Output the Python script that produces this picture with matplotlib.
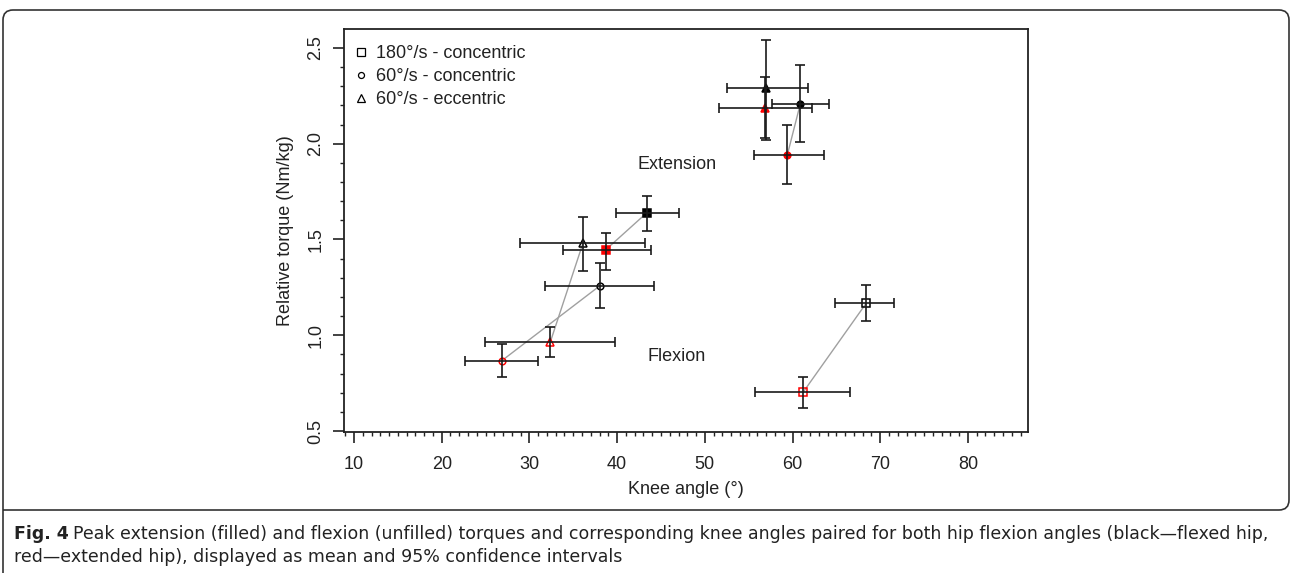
import numpy as np
import matplotlib
matplotlib.use('Agg')
import matplotlib.pyplot as plt
from matplotlib.lines import Line2D
from matplotlib.path import Path
from matplotlib.patches import PathPatch
from matplotlib.ticker import MultipleLocator

# conditions: 180 concentric, 60 concentric, 60 eccentric
labels = ['180°/s - concentric', '60°/s - concentric', '60°/s - eccentric']
markers = ['s', 'o', '^']

# extension (filled) - black = flexed hip, red = extended hip
ext_blk_x = [43.4, 60.9, 57.0]
ext_blk_xlo = [39.9, 57.7, 52.5]
ext_blk_xhi = [47.1, 64.2, 61.8]
ext_blk_y = [1.64, 2.21, 2.29]
ext_blk_ylo = [1.545, 2.01, 2.02]
ext_blk_yhi = [1.728, 2.41, 2.54]

ext_red_x = [38.7, 59.4, 56.9]
ext_red_xlo = [33.8, 55.6, 51.6]
ext_red_xhi = [43.9, 63.6, 62.2]
ext_red_y = [1.446, 1.94, 2.185]
ext_red_ylo = [1.34, 1.79, 2.03]
ext_red_yhi = [1.535, 2.10, 2.35]

# flexion (unfilled)
flx_blk_x = [68.4, 38.05, 36.1]
flx_blk_xlo = [64.9, 31.8, 28.9]
flx_blk_xhi = [71.6, 44.2, 43.2]
flx_blk_y = [1.167, 1.259, 1.48]
flx_blk_ylo = [1.076, 1.142, 1.336]
flx_blk_yhi = [1.263, 1.379, 1.618]

flx_red_x = [61.2, 26.85, 32.4]
flx_red_xlo = [55.7, 22.7, 24.9]
flx_red_xhi = [66.6, 31.0, 39.8]
flx_red_y = [0.702, 0.867, 0.967]
flx_red_ylo = [0.622, 0.784, 0.888]
flx_red_yhi = [0.780, 0.955, 1.042]

msize = {'s': 6.0, 'o': 4.8, '^': 6.3}

plt.rcParams['font.family'] = ['Liberation Sans', 'DejaVu Sans']

fig = plt.figure(figsize=(12.92, 5.73), dpi=100)
ax = fig.add_axes([344/1292, 141/573, 684/1292, 403/573])


def draw_group(x, xlo, xhi, y, ylo, yhi, col, filled):
    x = np.array(x); y = np.array(y)
    xerr = [x - np.array(xlo), np.array(xhi) - x]
    yerr = [y - np.array(ylo), np.array(yhi) - y]
    for i, m in enumerate(markers):
        ax.plot(x[i], y[i], marker=m, ms=msize[m], mec=col, mew=1.1,
                mfc=col if filled else 'none', ls='none', zorder=2)
    ax.errorbar(x, y, xerr=xerr, yerr=yerr, fmt='none', ecolor='#1a1a1a',
                elinewidth=1.2, capsize=3.3, capthick=1.2, zorder=3)


# grey lines pairing the two hip angles
for bx, by, rx, ry in [(ext_blk_x, ext_blk_y, ext_red_x, ext_red_y),
                       (flx_blk_x, flx_blk_y, flx_red_x, flx_red_y)]:
    for i in range(3):
        ax.plot([bx[i], rx[i]], [by[i], ry[i]], color='#a0a0a0', lw=1.0, zorder=1)

draw_group(ext_blk_x, ext_blk_xlo, ext_blk_xhi, ext_blk_y, ext_blk_ylo, ext_blk_yhi, 'black', True)
draw_group(ext_red_x, ext_red_xlo, ext_red_xhi, ext_red_y, ext_red_ylo, ext_red_yhi, 'red', True)
draw_group(flx_blk_x, flx_blk_xlo, flx_blk_xhi, flx_blk_y, flx_blk_ylo, flx_blk_yhi, 'black', False)
draw_group(flx_red_x, flx_red_xlo, flx_red_xhi, flx_red_y, flx_red_ylo, flx_red_yhi, 'red', False)

ax.text(46.8, 1.89, 'Extension', fontsize=13, color='#222222', ha='center', va='center')
ax.text(46.8, 0.89, 'Flexion', fontsize=13, color='#222222', ha='center', va='center')

handles = [Line2D([], [], marker=m, ls='none', mfc='none', mec='black',
                  mew=0.9, ms=msize[m] * 0.9) for m in markers]
ax.legend(handles, labels, loc='upper left', bbox_to_anchor=(0.0, 0.986),
          frameon=False, fontsize=13, handlelength=0.7, handletextpad=0.5,
          labelspacing=0.32, borderaxespad=0.2, labelcolor='#222222')

ax.set_xlim(8.86, 86.85)
ax.set_ylim(0.4948, 2.599)
ax.xaxis.set_major_locator(MultipleLocator(10))
ax.xaxis.set_minor_locator(MultipleLocator(1))
ax.yaxis.set_major_locator(MultipleLocator(0.5))
ax.yaxis.set_minor_locator(MultipleLocator(0.1))
ax.set_xticks(np.arange(10, 81, 10))
ax.set_yticks([0.5, 1.0, 1.5, 2.0, 2.5])
ax.tick_params(which='major', length=8, width=1.2, color='#222222',
               labelsize=13, labelcolor='#222222')
ax.tick_params(which='minor', length=3, width=1.0, color='#222222')
ax.tick_params(axis='x', pad=9)
ax.tick_params(axis='y', pad=6)
for lab in ax.get_yticklabels():
    lab.set_rotation(90)
    lab.set_va('center')
for s in ax.spines.values():
    s.set_linewidth(1.3)
    s.set_color('#222222')

ax.set_xlabel('Knee angle (°)', fontsize=13, color='#222222', labelpad=6)
ax.set_ylabel('Relative torque (Nm/kg)', fontsize=13, color='#222222', labelpad=10)

# outer frame of the figure panel (pixel coords, y from top)
W, H = 1292, 573
def P(x, y):
    return (x / W, 1 - y / H)
r = 10
verts = [P(3, 573), P(3, 10 + r), P(3, 10), P(3 + r, 10),
         P(1289 - r, 10), P(1289, 10), P(1289, 10 + r),
         P(1289, 510 - r), P(1289, 510), P(1289 - r, 510), P(3, 510)]
codes = [Path.MOVETO, Path.LINETO, Path.CURVE3, Path.CURVE3,
         Path.LINETO, Path.CURVE3, Path.CURVE3,
         Path.LINETO, Path.CURVE3, Path.CURVE3, Path.LINETO]
fig.add_artist(PathPatch(Path(verts, codes), transform=fig.transFigure,
                         fill=False, ec='#333333', lw=1.2))

# caption
cap_font = ['Liberation Sans Narrow', 'DejaVu Sans']
t1 = fig.text(14 / W, 1 - 534 / H, 'Fig. 4', fontsize=12.5, fontweight='bold',
              family=cap_font, va='center', ha='left', color='#222222')
fig.canvas.draw()
bb = t1.get_window_extent()
fig.text((bb.x1 + 4) / W, 1 - 534 / H,
         'Peak extension (filled) and flexion (unfilled) torques and corresponding knee angles '
         'paired for both hip flexion angles (black\u2014flexed hip,',
         fontsize=12.5, family=cap_font, va='center', ha='left', color='#222222')
fig.text(14 / W, 1 - 557 / H,
         'red\u2014extended hip), displayed as mean and 95% confidence intervals',
         fontsize=12.5, family=cap_font, va='center', ha='left', color='#222222')

fig.savefig('out.png', dpi=100)
